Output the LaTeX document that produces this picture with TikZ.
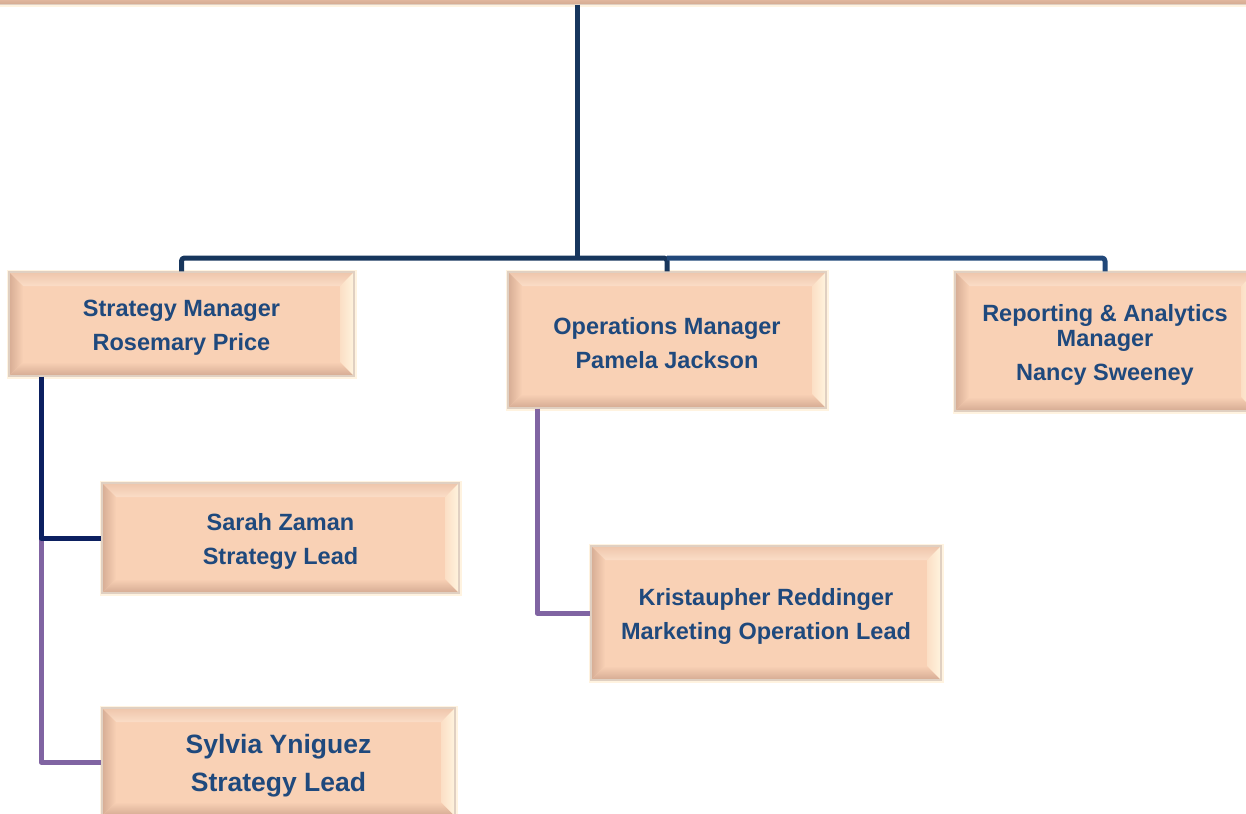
\documentclass[tikz,border=0pt]{standalone}
\usepackage{fontspec}
\setmainfont{Liberation Sans}
\definecolor{face}{RGB}{249,209,181}
\definecolor{btop}{RGB}{251,221,199}
\definecolor{bleft}{RGB}{214,172,148}
\definecolor{bbot}{RGB}{212,170,146}
\definecolor{bright}{RGB}{255,244,222}
\definecolor{edge}{RGB}{224,208,194}
\definecolor{glow}{RGB}{255,243,224}
\definecolor{txt}{RGB}{31,73,125}
\definecolor{navyA}{RGB}{23,54,93}
\definecolor{navyB}{RGB}{33,72,122}
\definecolor{navyC}{RGB}{12,32,96}
\definecolor{purp}{RGB}{128,100,162}
\newcommand{\topstrut}[1]{\rule{0pt}{#1}}
\tikzset{
  bevelbox/.style={fill=face, draw=edge, line width=1.2pt,
    preaction={draw=glow, line width=5pt},
    inner sep=0pt, align=center, text=txt,
    font=\bfseries\fontsize{23.5}{34}\selectfont,
    path picture={
      \path (path picture bounding box.north west) coordinate (pnw)
            (path picture bounding box.north east) coordinate (pne)
            (path picture bounding box.south west) coordinate (psw)
            (path picture bounding box.south east) coordinate (pse);
      \shade[top color=face!70!bbot, bottom color=btop]
        (pnw) -- (pne) -- ([shift={(-14pt,-14pt)}]pne) -- ([shift={(14pt,-14pt)}]pnw) -- cycle;
      \shade[left color=bleft, right color=face]
        (pnw) -- ([shift={(14pt,-14pt)}]pnw) -- ([shift={(14pt,14pt)}]psw) -- (psw) -- cycle;
      \shade[top color=face, bottom color=bbot]
        (psw) -- ([shift={(14pt,14pt)}]psw) -- ([shift={(-14pt,14pt)}]pse) -- (pse) -- cycle;
      \shade[left color=face!60!bright, right color=bright]
        (pne) -- (pse) -- ([shift={(-14pt,14pt)}]pse) -- ([shift={(-14pt,-14pt)}]pne) -- cycle;
    }},
  conn/.style={line width=5pt, line join=round},
}
\begin{document}
\begin{tikzpicture}[x=1pt, y=-1pt]
\useasboundingbox (0,0) rectangle (1246,813);
% top box (cut off)
\node[bevelbox, minimum width=1300pt, minimum height=105pt, anchor=south] (top) at (623,5) {};
% boxes
\node[bevelbox, minimum width=345pt, minimum height=104pt] (b1) at (181.5,324) {\topstrut{24pt}Strategy Manager\\Rosemary Price};
\node[bevelbox, minimum width=318pt, minimum height=136pt] (b2) at (667,340) {\topstrut{24pt}Operations Manager\\Pamela Jackson};
\node[bevelbox, minimum width=300pt, minimum height=139pt, font=\bfseries\fontsize{23.5}{25}\selectfont] (b3) at (1105,341.5) {\topstrut{24pt}Reporting \& Analytics\\Manager\\[9pt]Nancy Sweeney};
\node[bevelbox, minimum width=357pt, minimum height=110pt] (b4) at (280.5,538) {\topstrut{24pt}Sarah Zaman\\Strategy Lead};
\node[bevelbox, minimum width=353pt, minimum height=108pt, font=\bfseries\fontsize{26.5}{38}\selectfont] (b5) at (278.5,762) {\topstrut{27pt}Sylvia Yniguez\\Strategy Lead};
\node[bevelbox, minimum width=350pt, minimum height=134pt] (b6) at (766,613) {\topstrut{24pt}Kristaupher Reddinger\\Marketing Operation Lead};
% connectors
\coordinate (t) at (577,5);
\coordinate (bar) at (577,258);
\draw[conn, navyA] (t) -- (bar);
\draw[conn, navyA, rounded corners=3pt] (b1.north) |- (b2.north |- bar) -- (b2.north);
\draw[conn, navyB, rounded corners=3pt] (b2.north |- bar) -| (b3.north);
\coordinate (s1) at ([xshift=-140.5pt]b1.south);
\coordinate (j1) at (s1 |- b4.west);
\draw[conn, purp] (j1) |- (b5.west);
\draw[conn, navyC] (s1) |- (b4.west);
\coordinate (s2) at ([xshift=-130pt]b2.south);
\draw[conn, purp] (s2) |- (b6.west);
\end{tikzpicture}
\end{document}
